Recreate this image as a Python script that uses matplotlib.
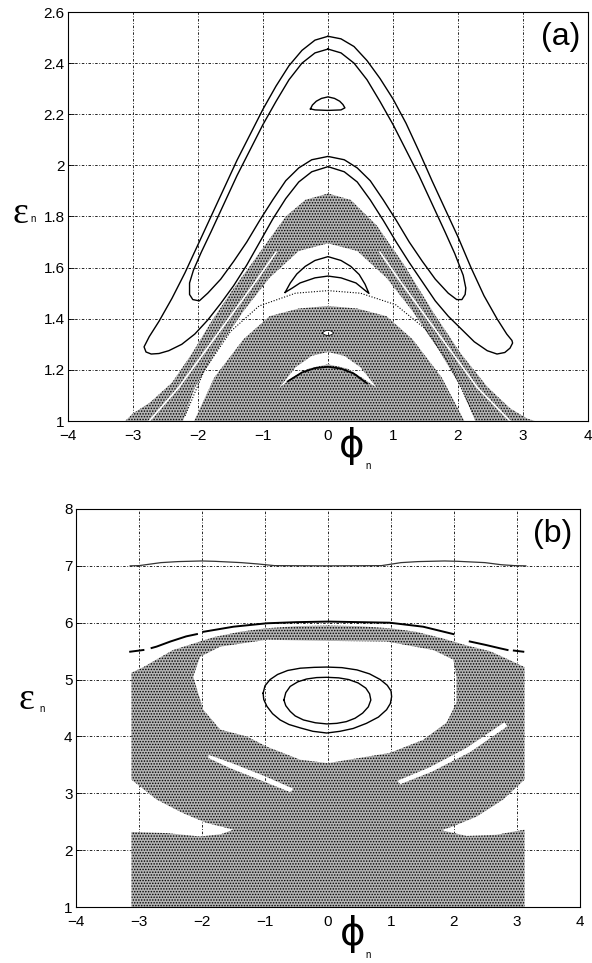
import numpy as np
import matplotlib
matplotlib.use('Agg')
import matplotlib.pyplot as plt
from matplotlib.path import Path
from matplotlib.patches import PathPatch

plt.rcParams['font.family'] = ['Liberation Sans', 'DejaVu Sans']
plt.rcParams['hatch.linewidth'] = 0.7

xticks = [-4, -3, -2, -1, 0, 1, 2, 3, 4]
xtick_labels = ['\u22124', '\u22123', '\u22122', '\u22121', '0', '1', '2', '3', '4']

# ---------------- panel (a) ----------------
a_yticks = [1, 1.2, 1.4, 1.6, 1.8, 2, 2.2, 2.4, 2.6]
a_ytick_labels = ['1', '1.2', '1.4', '1.6', '1.8', '2', '2.2', '2.4', '2.6']

# outer edge of the chaotic sea
a_env_x = [-3.12, -3.0, -2.75, -2.4, -2.09, -1.78, -1.47, -1.06, -0.65, -0.35, 0,
           0.35, 0.75, 1.16, 1.63, 2.04, 2.45, 2.8, 3.06, 3.18, 3.18, -3.12]
a_env_y = [1.0, 1.03, 1.07, 1.15, 1.265, 1.395, 1.512, 1.656, 1.80, 1.865, 1.89,
           1.865, 1.765, 1.615, 1.421, 1.265, 1.134, 1.05, 1.01, 1.0, 0.9, 0.9]
# white gap holding the middle island
a_gap1_x = [-2.3, -2.05, -1.7, -1.3, -0.9, -0.45, 0, 0.45, 0.9, 1.3, 1.7, 2.05, 2.35,
            2.2, 1.75, 1.3, 0.9, 0.45, 0, -0.45, -0.9, -1.3, -1.75, -2.15]
a_gap1_y = [0.95, 1.13, 1.28, 1.43, 1.56, 1.665, 1.695, 1.665, 1.56, 1.43, 1.28, 1.13, 0.95,
            0.95, 1.17, 1.32, 1.41, 1.44, 1.45, 1.44, 1.41, 1.32, 1.17, 0.95]
# thin white arch above the bottom dome
a_gap2_x = [-0.75, -0.5, -0.25, 0, 0.25, 0.5, 0.75, 0.55, 0.3, 0, -0.3, -0.55]
a_gap2_y = [1.13, 1.21, 1.255, 1.27, 1.255, 1.21, 1.13, 1.165, 1.205, 1.222, 1.205, 1.17]
# tiny island inside the chaos
a_isl_x = [-0.09, -0.05, 0, 0.05, 0.09, 0.05, 0, -0.05, -0.09]
a_isl_y = [1.344, 1.352, 1.355, 1.352, 1.344, 1.337, 1.334, 1.337, 1.344]

# outer invariant curve (upper arm left, tip, lower arm, tip, upper arm right)
a_out_x = [0, -0.2, -0.4, -0.6, -0.8, -1.0, -1.2, -1.4, -1.6, -1.8, -2.0, -2.2, -2.4,
           -2.6, -2.75, -2.83, -2.8, -2.72, -2.6,
           -2.45, -2.25, -2.05, -1.85, -1.65, -1.45, -1.25, -1.05, -0.85, -0.65, -0.45,
           -0.25, 0, 0.25, 0.45, 0.65, 0.85, 1.05, 1.25, 1.45, 1.65, 1.85, 2.05, 2.25,
           2.45, 2.6, 2.72, 2.8, 2.84, 2.83, 2.75, 2.6, 2.4, 2.2, 2.0, 1.8, 1.6, 1.4,
           1.2, 1.0, 0.8, 0.6, 0.4, 0.2, 0]
a_out_y = [2.505, 2.49, 2.45, 2.39, 2.31, 2.22, 2.12, 2.02, 1.91, 1.80, 1.69, 1.58, 1.48,
           1.39, 1.33, 1.29, 1.27, 1.262, 1.264,
           1.275, 1.30, 1.34, 1.395, 1.46, 1.53, 1.61, 1.70, 1.79, 1.87, 1.935,
           1.975, 1.995, 1.975, 1.935, 1.865, 1.785, 1.70, 1.62, 1.545, 1.47, 1.41, 1.36, 1.31,
           1.275, 1.262, 1.268, 1.285, 1.305, 1.315, 1.34, 1.40, 1.49, 1.60, 1.72, 1.83, 1.94, 2.055,
           2.165, 2.26, 2.34, 2.41, 2.465, 2.495, 2.505]
# inner invariant curve
a_in_x = [0, -0.2, -0.4, -0.6, -0.8, -1.0, -1.2, -1.4, -1.6, -1.8, -1.95, -2.07, -2.13,
          -2.13, -2.08, -1.98, -1.85, -1.65, -1.45, -1.25, -1.05, -0.85, -0.65, -0.45,
          -0.25, 0, 0.25, 0.45, 0.65, 0.85, 1.05, 1.25, 1.45, 1.65, 1.85, 1.98, 2.06,
          2.11, 2.12, 2.08, 1.95, 1.8, 1.6, 1.4, 1.2, 1.0, 0.8, 0.6, 0.4, 0.2, 0]
a_in_y = [2.455, 2.44, 2.40, 2.335, 2.25, 2.16, 2.06, 1.96, 1.85, 1.74, 1.66, 1.59, 1.54,
          1.495, 1.475, 1.47, 1.50, 1.555, 1.625, 1.70, 1.785, 1.865, 1.94, 1.99,
          2.022, 2.035, 2.022, 1.99, 1.94, 1.865, 1.785, 1.70, 1.625, 1.555, 1.50, 1.475, 1.475,
          1.495, 1.52, 1.57, 1.655, 1.74, 1.85, 1.96, 2.06, 2.16, 2.25, 2.335, 2.40, 2.44, 2.455]
# small island near the top
a_top_x = [-0.27, -0.24, -0.18, -0.1, 0, 0.1, 0.18, 0.23, 0.26, 0.2, 0, -0.2, -0.27]
a_top_y = [2.221, 2.236, 2.251, 2.262, 2.268, 2.262, 2.251, 2.238, 2.225, 2.217, 2.215,
           2.217, 2.221]
# middle banana island
a_ban_x = [-0.66, -0.58, -0.48, -0.35, -0.2, 0, 0.2, 0.35, 0.48, 0.57, 0.63, 0.55, 0.43,
           0.2, 0, -0.2, -0.43, -0.55, -0.66]
a_ban_y = [1.503, 1.54, 1.575, 1.605, 1.628, 1.643, 1.628, 1.605, 1.573, 1.535, 1.499,
           1.515, 1.54, 1.56, 1.567, 1.56, 1.54, 1.52, 1.503]
# dark arc on top of the bottom dome
a_arc_x = [-0.62, -0.4, -0.2, 0, 0.2, 0.4, 0.6]
a_arc_y = [1.155, 1.19, 1.207, 1.212, 1.205, 1.185, 1.147]
# sparse separatrix inside the gap
a_sep_x = [-2.2, -1.9, -1.5, -1.06, -0.5, 0, 0.5, 1.04, 1.5, 1.9, 2.25]
a_sep_y = [1.02, 1.2, 1.35, 1.45, 1.5, 1.51, 1.5, 1.455, 1.36, 1.21, 1.02]
# thin white lines inside the outer band
a_wl_x = [-2.75, -2.3, -1.9, -1.5, -1.1, -0.8]
a_wl_y = [1.0, 1.13, 1.27, 1.41, 1.55, 1.66]
a_wr_x = [0.8, 1.1, 1.5, 1.9, 2.3, 2.8]
a_wr_y = [1.66, 1.55, 1.41, 1.27, 1.13, 1.0]

# ---------------- panel (b) ----------------
b_yticks = [1, 2, 3, 4, 5, 6, 7, 8]
b_ytick_labels = ['1', '2', '3', '4', '5', '6', '7', '8']

b_sea_x = [-3.12, -3.12, -2.56, -2.03, -1.7, -1.5, -1.93, -2.30, -2.72, -3.12, -3.12,
           -2.93, -2.46, -2.03, -1.8, -1.4, -1.0, -0.5, 0, 0.5, 1.0, 1.4, 1.8, 2.2, 2.57,
           2.85, 3.12, 3.12, 2.78, 2.36, 1.99, 1.8, 2.2, 2.67, 3.12, 3.12]
b_sea_y = [0.9, 2.32, 2.30, 2.24, 2.28, 2.36, 2.48, 2.65, 2.89, 3.24, 5.12,
           5.22, 5.52, 5.67, 5.75, 5.84, 5.90, 5.94, 5.95, 5.94, 5.90, 5.84, 5.73, 5.60, 5.5,
           5.36, 5.22, 3.24, 2.89, 2.59, 2.42, 2.35, 2.25, 2.27, 2.36, 0.9]
b_hole_x = [-2.03, -1.71, -0.97, 0, 0.93, 1.67, 1.99, 2.04, 2.04, 1.88, 1.51, 0.98, 0,
            -0.44, -0.97, -1.29, -1.71, -1.98, -2.14]
b_hole_y = [5.40, 5.58, 5.70, 5.68, 5.67, 5.52, 5.35, 5.05, 4.59, 4.24, 3.94, 3.71, 3.53,
            3.59, 3.82, 4.0, 4.12, 4.47, 5.05]
b_sl_x = [-1.9, -1.5, -1.0, -0.55, -0.6, -1.05, -1.55, -1.9]
b_sl_y = [3.68, 3.52, 3.30, 3.08, 3.02, 3.22, 3.44, 3.62]
b_sr_x = [1.1, 1.6, 2.2, 2.8, 2.85, 2.25, 1.65, 1.15]
b_sr_y = [3.22, 3.45, 3.80, 4.25, 4.18, 3.72, 3.38, 3.16]

b_seven_x = [-3.14, -3.0, -2.65, -2.38, -2.01, -1.80, -1.38, -1.11, -0.85, 0, 0.85, 1.16,
             1.43, 1.85, 2.06, 2.49, 2.75, 2.96, 3.14]
b_seven_y = [7.0, 7.004, 7.057, 7.075, 7.086, 7.08, 7.057, 7.033, 7.004, 7.0, 7.004, 7.057,
             7.075, 7.086, 7.08, 7.057, 7.02, 7.004, 7.0]
b_six_x = [-3.14, -2.93, np.nan, -2.80, -2.72, -2.5, -2.25, -2.08, np.nan, -1.98, -1.50,
           -0.97, -0.5, 0, 0.5, 0.98, 1.51, 1.99, np.nan, 2.25, 2.5, 2.73, 2.85, np.nan,
           2.95, 3.10]
b_six_y = [5.49, 5.52, np.nan, 5.555, 5.58, 5.67, 5.76, 5.80, np.nan, 5.84, 5.93,
           5.99, 6.01, 6.02, 6.01, 6.0, 5.93, 5.80, np.nan, 5.67, 5.61, 5.55, 5.52, np.nan,
           5.51, 5.49]
b_o_x = [-1.03, -1.0, -0.92, -0.8, -0.64, -0.44, -0.22, -0.02, 0.22, 0.46, 0.66, 0.83,
         0.94, 1.0, 1.01, 0.99, 0.93, 0.8, 0.61, 0.4, 0.19, -0.02, -0.24, -0.44, -0.62,
         -0.76, -0.88, -0.97, -1.02, -1.03]
b_o_y = [4.76, 4.89, 5.0, 5.09, 5.16, 5.20, 5.215, 5.22, 5.21, 5.17, 5.1, 5.0,
         4.9, 4.8, 4.70, 4.58, 4.47, 4.34, 4.23, 4.14, 4.09, 4.06, 4.09, 4.15, 4.21,
         4.29, 4.4, 4.53, 4.65, 4.76]
b_i_x = [-0.70, -0.67, -0.60, -0.48, -0.34, -0.18, -0.02, 0.17, 0.33, 0.48, 0.60, 0.66,
         0.68, 0.64, 0.55, 0.43, 0.29, 0.14, -0.02, -0.2, -0.39, -0.52, -0.60, -0.67, -0.70]
b_i_y = [4.64, 4.77, 4.88, 4.96, 5.01, 5.035, 5.04, 5.03, 5.0, 4.94, 4.85, 4.75,
         4.64, 4.52, 4.41, 4.32, 4.26, 4.23, 4.22, 4.24, 4.29, 4.36, 4.44, 4.54, 4.64]


def region(outer, holes):
    # compound path: outer boundary plus reversed holes
    verts = []
    codes = []

    def add(xs, ys, sign):
        pts = list(zip(xs, ys))
        area = sum(x0 * y1 - x1 * y0 for (x0, y0), (x1, y1) in zip(pts, pts[1:] + pts[:1]))
        if area * sign < 0:
            pts = pts[::-1]
        verts.extend(pts + [pts[0]])
        codes.extend([Path.MOVETO] + [Path.LINETO] * (len(pts) - 1) + [Path.CLOSEPOLY])

    add(outer[0], outer[1], 1)
    for h in holes:
        add(h[0], h[1], -1)
    return Path(verts, codes)


def style(ax, ylim, yticks, ylabels):
    ax.set_xlim(-4, 4)
    ax.set_ylim(*ylim)
    ax.set_xticks(xticks)
    ax.set_xticklabels(xtick_labels)
    ax.set_yticks(yticks)
    ax.set_yticklabels(ylabels)
    ax.tick_params(direction='in', length=4, width=0.6, labelsize=11)
    ax.tick_params(axis='x', pad=6)
    ax.tick_params(axis='y', pad=2.5)
    ax.grid(True, color='black', linestyle=(0, (3, 2, 1, 2)), linewidth=0.6)
    ax.set_axisbelow(True)
    for s in ax.spines.values():
        s.set_linewidth(0.8)


fig = plt.figure(figsize=(5.92, 9.63), dpi=100)
sea = dict(facecolor='#b4b4b4', edgecolor='black', hatch='......', linewidth=0, zorder=1)

ax1 = fig.add_axes([68 / 592, 542 / 963, 520 / 592, 409 / 963])
style(ax1, (1, 2.6), a_yticks, a_ytick_labels)
ax1.add_patch(PathPatch(region((a_env_x, a_env_y),
                               [(a_gap1_x, a_gap1_y), (a_gap2_x, a_gap2_y),
                                (a_isl_x, a_isl_y)]), **sea))
ax1.plot(a_wl_x, a_wl_y, color='white', lw=1.2, zorder=2)
ax1.plot(a_wr_x, a_wr_y, color='white', lw=1.2, zorder=2)
ax1.plot(a_sep_x, a_sep_y, color='black', lw=0.8, linestyle=(0, (1, 1.5)), zorder=2)
ax1.plot(a_arc_x, a_arc_y, color='black', lw=1.3, zorder=3)
ax1.plot(a_isl_x, a_isl_y, color='black', lw=0.6, zorder=3)
for cx, cy in [(a_out_x, a_out_y), (a_in_x, a_in_y), (a_top_x, a_top_y), (a_ban_x, a_ban_y)]:
    ax1.plot(cx, cy, color='black', lw=1.0, zorder=3)
ax1.text(0.985, 0.975, '(a)', transform=ax1.transAxes, ha='right', va='top', fontsize=23)

ax2 = fig.add_axes([76 / 592, 56 / 963, 504 / 592, 398 / 963])
style(ax2, (1, 8), b_yticks, b_ytick_labels)
ax2.add_patch(PathPatch(region((b_sea_x, b_sea_y),
                               [(b_hole_x, b_hole_y), (b_sl_x, b_sl_y), (b_sr_x, b_sr_y)]),
                        **sea))
ax2.plot(b_seven_x, b_seven_y, color='#333333', lw=0.9, zorder=3)
ax2.plot(b_six_x, b_six_y, color='black', lw=1.4, zorder=3)
ax2.plot(b_o_x, b_o_y, color='black', lw=1.0, zorder=3)
ax2.plot(b_i_x, b_i_y, color='black', lw=1.0, zorder=3)
ax2.text(0.985, 0.975, '(b)', transform=ax2.transAxes, ha='right', va='top', fontsize=23)

# axis labels placed in figure pixels
for ex, ey, nx, ny in [(20, 214, 33, 219), (26, 700, 42, 709)]:
    fig.text(ex / 592, 1 - ey / 963, '\u03b5', family='Liberation Serif', fontsize=27,
             ha='center', va='center')
    fig.text(nx / 592, 1 - ny / 963, 'n', fontsize=7, ha='center', va='center')
for px, py, nx, ny in [(352, 446, 368, 466), (353, 934, 368, 955)]:
    fig.text(px / 592, 1 - py / 963, '\u03d5', family='DejaVu Sans', fontsize=28,
             ha='center', va='center')
    fig.text(nx / 592, 1 - ny / 963, 'n', fontsize=7, ha='center', va='center')

fig.savefig('out.png', dpi=100)
